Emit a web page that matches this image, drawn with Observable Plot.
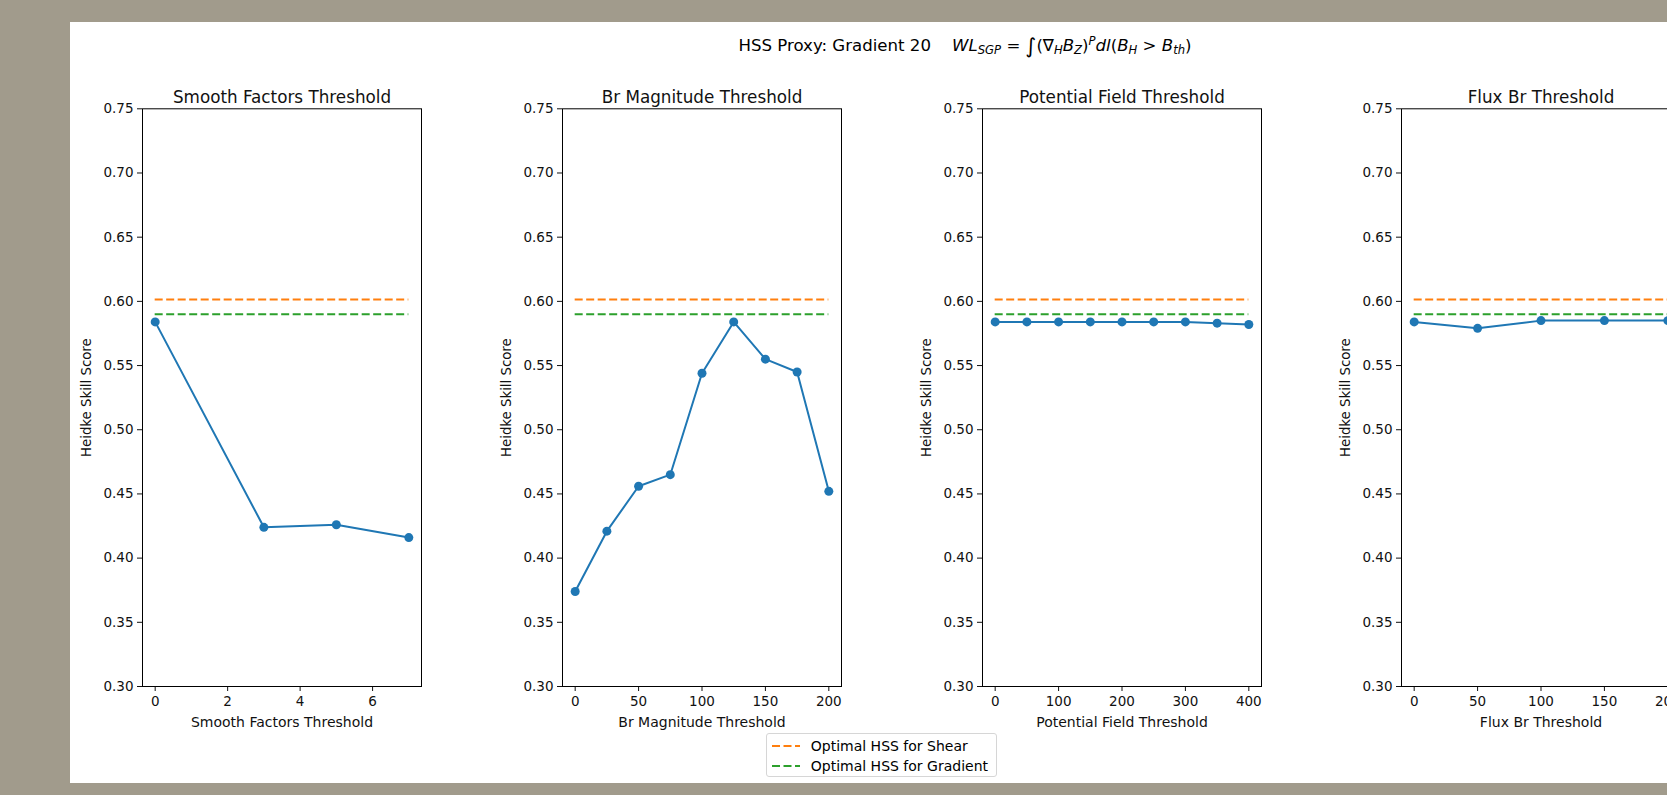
<!DOCTYPE html>
<html>
<head>
<meta charset="utf-8">
<script src="https://cdn.jsdelivr.net/npm/d3@7"></script>
<script src="https://cdn.jsdelivr.net/npm/@observablehq/plot@0.6"></script>
<style>
html, body { margin: 0; padding: 0; overflow: hidden; background: #a19b8c; }
#page { position: relative; width: 1667px; height: 795px; overflow: hidden; background: #a19b8c; font-family: "DejaVu Sans", sans-serif; color: #000; }
#sheet { position: absolute; left: 70px; top: 22px; width: 1597px; height: 761px; background: #fff; }
.panel { position: absolute; top: 60px; width: 420px; }
.panel svg { overflow: visible; max-width: none !important; }
#suptitle { position: absolute; left: 965px; top: 35px; transform: translateX(-50%); white-space: nowrap; font-size: 16.6px; line-height: 22px; }
#suptitle sub { font-size: 0.7em; vertical-align: -0.3em; line-height: 0; }
#suptitle sup { font-size: 0.7em; vertical-align: 0.5em; line-height: 0; }
#suptitle .int { font-size: 1.25em; vertical-align: -0.1em; line-height: 0; }
#legend { position: absolute; left: 766px; top: 733px; width: 231px; height: 44px; box-sizing: border-box; border: 1px solid #d6d6d6; border-radius: 3px; background: #fff; font-size: 14px; }
#legend .item { position: absolute; left: 0; height: 20px; display: flex; align-items: center; white-space: nowrap; }
#legend svg { margin-left: 4.6px; margin-right: 11.2px; }
</style>
</head>
<body>
<div id="page">
  <div id="sheet"></div>
  <div id="suptitle">HSS Proxy: Gradient 20&nbsp;&nbsp;&nbsp; <i>WL<sub>SGP</sub></i> = <span class="int">∫</span>(∇<sub><i>H</i></sub><i>B<sub>Z</sub></i>)<sup><i>P</i></sup><i>dl</i>(<i>B<sub>H</sub></i> &gt; <i>B<sub>th</sub></i>)</div>
  <div id="legend"></div>
</div>
<script>
// ---- data ----
const yTicks = [0.30, 0.35, 0.40, 0.45, 0.50, 0.55, 0.60, 0.65, 0.70, 0.75];

const smoothX = [0, 3, 5, 7];
const smoothHSS = [0.584, 0.424, 0.426, 0.416];
const smoothTicks = [0, 2, 4, 6];

const brMagX = [0, 25, 50, 75, 100, 125, 150, 175, 200];
const brMagHSS = [0.374, 0.421, 0.456, 0.465, 0.544, 0.584, 0.555, 0.545, 0.452];
const brMagTicks = [0, 50, 100, 150, 200];

const potX = [0, 50, 100, 150, 200, 250, 300, 350, 400];
const potHSS = [0.584, 0.584, 0.584, 0.584, 0.584, 0.584, 0.584, 0.583, 0.582];
const potTicks = [0, 100, 200, 300, 400];

const fluxX = [0, 50, 100, 150, 200];
const fluxHSS = [0.584, 0.579, 0.585, 0.585, 0.585];
const fluxTicks = [0, 50, 100, 150, 200];

const shearOpt = 0.6015;
const gradOpt = 0.590;

const titles = ["Smooth Factors Threshold", "Br Magnitude Threshold", "Potential Field Threshold", "Flux Br Threshold"];
const yLabel = "Heidke Skill Score";
const legendLabels = ["Optimal HSS for Shear", "Optimal HSS for Gradient"];

const BLUE = "#1f77b4", ORANGE = "#ff7f0e", GREEN = "#2ca02c";
const DASH = "8,3.5";

const panels = [
  {xs: smoothX, ys: smoothHSS, ticks: smoothTicks, title: titles[0], left: 142},
  {xs: brMagX, ys: brMagHSS, ticks: brMagTicks, title: titles[1], left: 561.7},
  {xs: potX, ys: potHSS, ticks: potTicks, title: titles[2], left: 981.5},
  {xs: fluxX, ys: fluxHSS, ticks: fluxTicks, title: titles[3], left: 1401}
];

const page = document.getElementById("page");
const ML = 72, FW = 279, MR = 69, MT = 48.3, FH = 577.7, MB = 90;

panels.forEach(p => {
  const data = p.xs.map((x, i) => ({x, y: p.ys[i]}));
  const xmin = d3.min(p.xs), xmax = d3.max(p.xs);
  const pad = (xmax - xmin) * 0.05;
  const chart = Plot.plot({
    width: ML + FW + MR,
    height: MT + FH + MB,
    marginLeft: ML, marginRight: MR, marginTop: MT, marginBottom: MB,
    style: {fontFamily: "DejaVu Sans", fontSize: "13.5px", color: "#111", background: "transparent", overflow: "visible", maxWidth: "none"},
    x: {domain: [xmin - pad, xmax + pad], ticks: p.ticks, tickFormat: d => String(d), tickSize: 5, tickPadding: 5, label: null},
    y: {domain: [0.30, 0.75], ticks: yTicks, tickFormat: d3.format(".2f"), tickSize: 5, tickPadding: 4, label: null},
    marks: [
      Plot.frame({stroke: "#000", strokeWidth: 1}),
      Plot.line(data, {x: "x", y: "y", stroke: BLUE, strokeWidth: 2}),
      Plot.dot(data, {x: "x", y: "y", r: 4.5, fill: BLUE}),
      Plot.ruleY([shearOpt], {x1: xmin, x2: xmax, stroke: ORANGE, strokeWidth: 2, strokeDasharray: DASH}),
      Plot.ruleY([gradOpt], {x1: xmin, x2: xmax, stroke: GREEN, strokeWidth: 2, strokeDasharray: DASH}),
      Plot.text([p.title], {frameAnchor: "top", dy: -6.3, lineAnchor: "bottom", textAnchor: "middle", fontSize: 16.8, fill: "#111"}),
      Plot.text([p.title], {frameAnchor: "bottom", dy: 40, lineAnchor: "bottom", textAnchor: "middle", fontSize: 14, fill: "#111"}),
      Plot.text([yLabel], {frameAnchor: "left", dx: -51.3, rotate: -90, lineAnchor: "bottom", textAnchor: "middle", fontSize: 13.3, fill: "#111"})
    ]
  });
  const wrap = document.createElement("div");
  wrap.className = "panel";
  wrap.style.left = (p.left - ML) + "px";
  wrap.appendChild(chart);
  page.insertBefore(wrap, document.getElementById("legend"));
});

// legend
const legend = document.getElementById("legend");
[[legendLabels[0], ORANGE, 12.7], [legendLabels[1], GREEN, 32.7]].forEach(([label, color, cy]) => {
  const item = document.createElement("div");
  item.className = "item";
  item.style.top = (cy - 10 - 1) + "px";
  item.innerHTML = `<svg width="28" height="6"><line x1="0" x2="28" y1="3" y2="3" stroke="${color}" stroke-width="2" stroke-dasharray="${DASH}"/></svg><span>${label}</span>`;
  legend.appendChild(item);
});
</script>
</body>
</html>
